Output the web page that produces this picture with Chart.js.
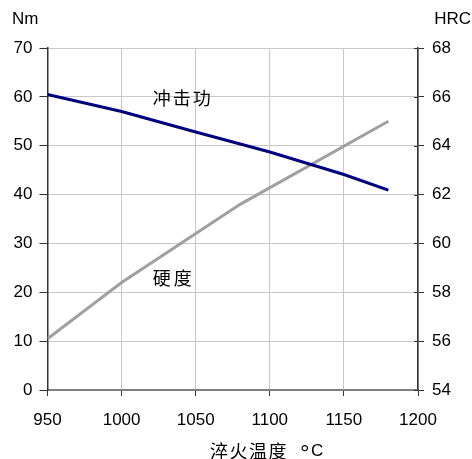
<!DOCTYPE html>
<html>
<head>
<meta charset="utf-8">
<script src="https://cdn.jsdelivr.net/npm/chart.js@4.4.1/dist/chart.umd.min.js"></script>
<style>
  html, body { margin: 0; padding: 0; background: #fff; }
  #wrap { width: 472px; height: 459px; }
</style>
</head>
<body>
<div id="wrap"><canvas id="chart" width="472" height="459"></canvas></div>
<script>
// quench temperature, °C
const tempImpact = [950, 1000, 1050, 1100, 1150, 1180];
const impactNm = [60.5, 57, 52.8, 48.7, 44.1, 40.9];
const tempHard = [950, 1000, 1080, 1180];
const hardnessHRC = [56.1, 58.4, 61.6, 65];

const xTicks = [950, 1000, 1050, 1100, 1150, 1200];
const nmTicks = [0, 10, 20, 30, 40, 50, 60, 70];
const hrcTicks = [54, 56, 58, 60, 62, 64, 66, 68];

const tickFont = { family: 'Liberation Sans, Arial, sans-serif', size: 17 };
const cjkFont = '"Noto Sans CJK SC", sans-serif';

// axis units, x title, inner right ticks and the two curve labels
const labelsPlugin = {
    id: 'labels',
    afterDraw(chart) {
        const ctx = chart.ctx;
        const x = chart.scales.x, y = chart.scales.y, y1 = chart.scales.y1;
        ctx.save();
        ctx.strokeStyle = '#333';
        ctx.lineWidth = 1;
        hrcTicks.forEach(v => {
            const py = Math.round(y1.getPixelForValue(v)) + 0.5;
            ctx.beginPath();
            ctx.moveTo(y1.left - 4, py);
            ctx.lineTo(y1.left, py);
            ctx.stroke();
        });
        ctx.fillStyle = '#000';
        ctx.textBaseline = 'middle';
        ctx.font = '17px Liberation Sans, Arial, sans-serif';
        ctx.textAlign = 'left';
        ctx.fillText('Nm', 12, 19);
        ctx.textAlign = 'right';
        ctx.fillText('HRC', 471, 19);
        ctx.textAlign = 'left';
        ctx.letterSpacing = '2px';
        ctx.font = '18px ' + cjkFont;
        ctx.fillText('冲击功', x.getPixelForValue(1021), y.getPixelForValue(59.7));
        ctx.letterSpacing = '3px';
        ctx.fillText('硬度', x.getPixelForValue(1021), y.getPixelForValue(22.9));
        ctx.letterSpacing = '1.5px';
        ctx.fillText('淬火温度', 210, 451);
        ctx.letterSpacing = '0px';
        ctx.textBaseline = 'alphabetic';
        ctx.font = '24px Liberation Sans, Arial, sans-serif';
        ctx.fillText('°', 300, 461);
        ctx.font = '17px Liberation Sans, Arial, sans-serif';
        ctx.fillText('C', 311, 456);
        ctx.restore();
    }
};

new Chart(document.getElementById('chart'), {
    type: 'line',
    data: {
        datasets: [{
            label: '冲击功',
            data: tempImpact.map((t, i) => ({ x: t, y: impactNm[i] })),
            borderColor: '#000080',
            borderWidth: 3,
            pointRadius: 0,
            tension: 0,
            yAxisID: 'y'
        }, {
            label: '硬度',
            data: tempHard.map((t, i) => ({ x: t, y: hardnessHRC[i] })),
            borderColor: '#a0a0a0',
            borderWidth: 3,
            pointRadius: 0,
            tension: 0,
            yAxisID: 'y1'
        }]
    },
    options: {
        responsive: false,
        animation: false,
        layout: { padding: { top: 48, left: 0, right: 0, bottom: 0 } },
        plugins: { legend: { display: false }, tooltip: { enabled: false } },
        scales: {
            x: {
                type: 'linear',
                min: 950, max: 1200,
                afterBuildTicks: s => { s.ticks = xTicks.map(v => ({ value: v })); },
                grid: { color: '#c8c8c8', tickColor: '#333', tickLength: 6 },
                border: { color: '#808080', width: 2 },
                ticks: { font: tickFont, color: '#000', padding: 14, maxRotation: 0, callback: v => String(v) },
                afterFit: s => { s.height = 69; }
            },
            y: {
                position: 'left',
                min: 0, max: 70,
                afterBuildTicks: s => { s.ticks = nmTicks.map(v => ({ value: v })); },
                grid: { color: '#c8c8c8', tickColor: '#333', tickLength: 8 },
                border: { color: '#333', width: 1.5 },
                ticks: { font: tickFont, color: '#000', padding: 7 },
                afterFit: s => { s.width = 47.5; }
            },
            y1: {
                position: 'right',
                min: 54, max: 68,
                afterBuildTicks: s => { s.ticks = hrcTicks.map(v => ({ value: v })); },
                grid: { drawOnChartArea: false, tickColor: '#333', tickLength: 6 },
                border: { color: '#333', width: 1.5 },
                ticks: { font: tickFont, color: '#000', padding: 8 },
                afterFit: s => { s.width = 54; }
            }
        }
    },
    plugins: [labelsPlugin]
});
</script>
</body>
</html>
